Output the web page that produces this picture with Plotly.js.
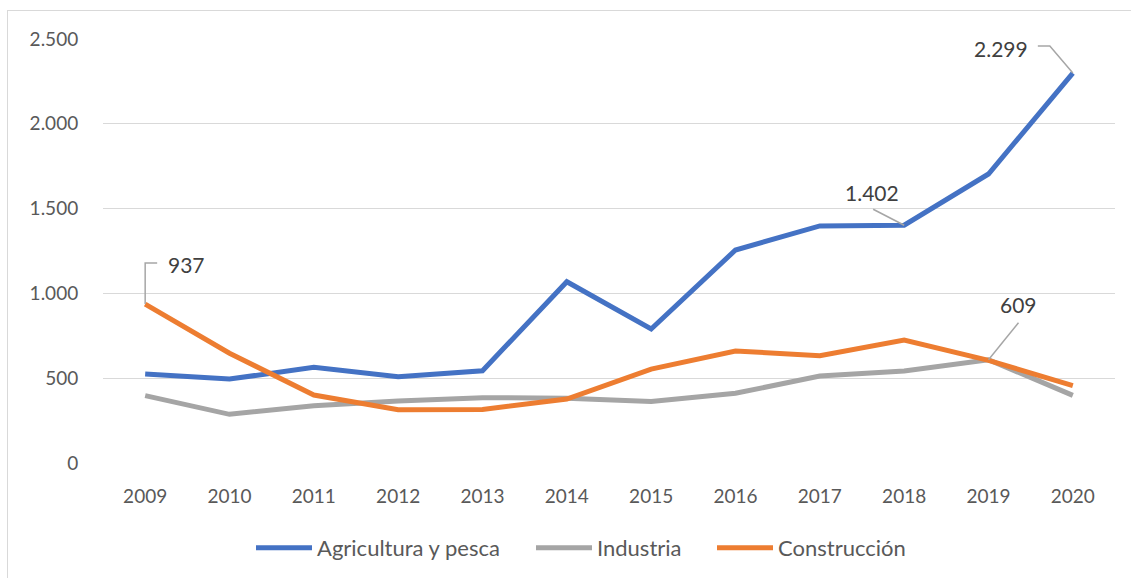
<!DOCTYPE html>
<html>
<head>
<meta charset="utf-8">
<script src="https://cdn.plot.ly/plotly-3.0.1.min.js"></script>
<style>
html,body{margin:0;padding:0;background:#fff;overflow:hidden;}
#frame{position:absolute;left:7px;top:10px;width:1200px;height:700px;border-left:1.5px solid #d9d9d9;border-top:1.5px solid #d9d9d9;pointer-events:none;z-index:5;}
#chart{position:absolute;left:0;top:0;width:1131px;height:578px;}
#err{position:absolute;left:300px;top:20px;color:red;font:12px sans-serif;z-index:9;}
</style>
</head>
<body>
<div id="chart"></div>
<div id="frame"></div>
<div id="err"></div>
<script>
const years = ["2009","2010","2011","2012","2013","2014","2015","2016","2017","2018","2019","2020"];
const agricultura = [525, 495, 564, 508, 544, 1069, 790, 1256, 1398, 1402, 1704, 2299];
const industria = [397, 287, 338, 366, 385, 382, 362, 411, 513, 542, 609, 399];
const construccion = [937, 647, 401, 314, 316, 377, 554, 660, 633, 725, 605, 456];
const seriesNames = ["Agricultura y pesca", "Industria", "Construcción"];
const yTicks = [0, 500, 1000, 1500, 2000, 2500];
const yTickText = ["0", "500", "1.000", "1.500", "2.000", "2.500"];

const colors = ["#4472C4", "#A5A5A5", "#ED7D31"];
const font = "Lato, sans-serif";
const legendIds = ["legend", "legend2", "legend3"];
const legendLeft = [251, 531, 712];

const traces = [agricultura, industria, construccion].map((v, i) => ({
  type: "scatter", mode: "lines", x: years, y: v, name: seriesNames[i],
  legend: legendIds[i],
  line: {color: colors[i], width: 5, shape: "linear"}, hoverinfo: "skip"
}));

function fmt(v){ return v >= 1000 ? Math.floor(v/1000) + "." + String(v % 1000).padStart(3, "0") : String(v); }

const labelDefs = [
  {vals: construccion, i: 0, dx: 41, dy: 40, path: "M0,0 L0,41 L12,41"},
  {vals: agricultura, i: 9, dx: -32, dy: 33, path: "M0,0 L-31,16"},
  {vals: agricultura, i: 11, dx: -72, dy: 25, path: "M0,0 L-23,27 L-35,27"},
  {vals: industria, i: 10, dx: 30, dy: 55, path: "M0,0 L30,37"}
];

const annotations = labelDefs.map(d => ({
  x: d.i, y: d.vals[d.i], xref: "x", yref: "y", text: fmt(d.vals[d.i]),
  showarrow: false, xshift: d.dx, yshift: d.dy, xanchor: "center", yanchor: "middle",
  font: {family: font, size: 21, color: "#404040"}
}));
const shapes = labelDefs.map(d => ({
  type: "path", xref: "x", yref: "y", xsizemode: "pixel", ysizemode: "pixel",
  xanchor: d.i, yanchor: d.vals[d.i], path: d.path,
  line: {color: "#A6A6A6", width: 1.5}
}));

const legendBase = {
  orientation: "h", xref: "container", yref: "container",
  xanchor: "left", y: 0.052, yanchor: "middle",
  font: {family: font, size: 22, color: "#595959"},
  itemwidth: 56, bgcolor: "rgba(0,0,0,0)"
};

const layout = {
  width: 1131, height: 578,
  margin: {l: 103, r: 16, t: 39, b: 115},
  paper_bgcolor: "#fff", plot_bgcolor: "#fff",
  font: {family: font, size: 19, color: "#595959"},
  xaxis: {
    type: "category", range: [-0.5, 11.5], showgrid: false, zeroline: false,
    showline: false, ticks: "outside", ticklen: 16, tickcolor: "rgba(0,0,0,0)",
    tickfont: {family: font, size: 19, color: "#595959"}
  },
  yaxis: {
    range: [0, 2500], tickvals: yTicks, ticktext: yTickText,
    showgrid: true, gridcolor: "#D9D9D9", gridwidth: 1.3, zeroline: false,
    showline: false, ticks: "outside", ticklen: 20, tickcolor: "rgba(0,0,0,0)",
    tickfont: {family: font, size: 19, color: "#595959"}
  },
  showlegend: true,
  annotations: annotations
};
legendIds.forEach((id, i) => { layout[id] = Object.assign({}, legendBase, {x: legendLeft[i] / 1131}); });

Plotly.newPlot("chart", traces, layout, {staticPlot: true, displayModeBar: false})
  .then(gd => Plotly.relayout(gd, {shapes: shapes}))
  .catch(e => { document.getElementById("err").textContent = String(e && e.stack || e); });
</script>
</body>
</html>
